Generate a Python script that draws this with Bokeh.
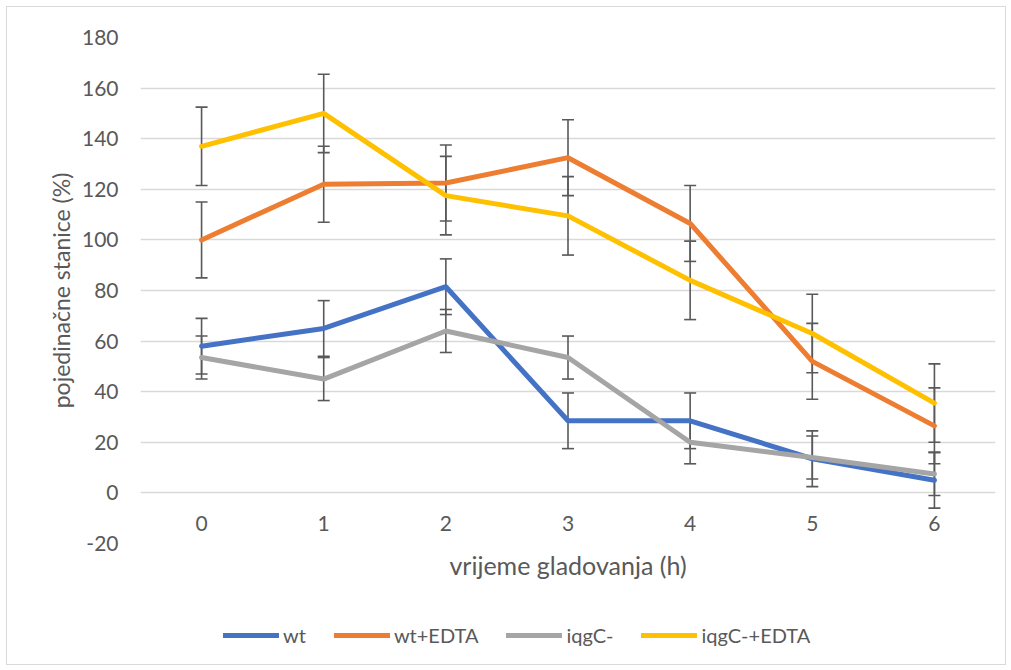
from bokeh.plotting import figure
from bokeh.layouts import column
from bokeh.models import (ColumnDataSource, Whisker, TeeHead, Range1d, FixedTicker,
                          Legend, LegendItem)
from bokeh.core.properties import value
from bokeh.embed import file_html
from bokeh.resources import INLINE

hours = [0, 1, 2, 3, 4, 5, 6]
hour_labels = ["0", "1", "2", "3", "4", "5", "6"]
wt = [58, 65, 81.5, 28.5, 28.5, 13.5, 5]
wt_edta = [100, 122, 122.5, 132.5, 106.5, 52, 26.5]
iqgc = [53.5, 45, 64, 53.5, 20, 14, 7.5]
iqgc_edta = [137, 150, 117.5, 109.5, 84, 63, 35.5]

wt_err = [11, 11, 11, 11, 11, 11, 11]
wt_edta_err = [15, 15, 15, 15, 15, 15, 15]
iqgc_err = [8.5, 8.5, 8.5, 8.5, 8.5, 8.5, 8.5]
iqgc_edta_err = [15.5, 15.5, 15.5, 15.5, 15.5, 15.5, 15.5]

names = ["wt", "wt+EDTA", "iqgC-", "iqgC-+EDTA"]
colors = ["#4472C4", "#ED7D31", "#A5A5A5", "#FFC000"]
y_ticks = [-20, 0, 20, 40, 60, 80, 100, 120, 140, 160, 180]

FONT = "Lato"
TXT = "#595959"

p = figure(width=998, height=610, output_backend="svg", toolbar_location=None,
           x_range=Range1d(-0.5, 6.5), y_range=Range1d(-20, 180),
           min_border_left=133, min_border_right=10, min_border_top=30,
           min_border_bottom=74, outline_line_color=None)

p.xgrid.grid_line_color = None
p.ygrid.grid_line_color = "#D9D9D9"
p.ygrid.grid_line_width = 1.3

for ax in (p.xaxis[0], p.yaxis[0]):
    ax.axis_line_color = None
    ax.major_tick_line_color = None
    ax.minor_tick_line_color = None
    ax.major_tick_in = 0
    ax.major_tick_out = 0
    ax.major_label_text_font = FONT
    ax.major_label_text_font_size = "21px"
    ax.major_label_text_color = TXT
    ax.axis_label_text_font = FONT
    ax.axis_label_text_font_style = "normal"
    ax.axis_label_text_color = TXT

p.xaxis.axis_label_text_font_size = "25px"
p.yaxis.axis_label_text_font_size = "23px"
p.xaxis.ticker = FixedTicker(ticks=[])
p.yaxis.ticker = FixedTicker(ticks=y_ticks)
p.yaxis.major_label_overrides = {-20: "-20"}
p.xaxis.major_label_standoff = 0
p.xaxis.axis_label = "vrijeme gladovanja (h)"
p.yaxis.axis_label = "pojedinačne stanice (%)"
p.xaxis.axis_label_standoff = 6
p.yaxis.major_label_standoff = 22
p.yaxis.axis_label_standoff = 4

series = [wt, wt_edta, iqgc, iqgc_edta]
errs = [wt_err, wt_edta_err, iqgc_err, iqgc_edta_err]

sources = []
for vals, err in zip(series, errs):
    src = ColumnDataSource(data=dict(
        x=hours, y=vals,
        upper=[v + e for v, e in zip(vals, err)],
        lower=[v - e for v, e in zip(vals, err)]))
    sources.append(src)

# category labels sit just below the zero line, as in Excel
lab_src = ColumnDataSource(data=dict(x=hours, y=[0] * len(hours), t=hour_labels))
p.text("x", "y", text="t", source=lab_src, text_align="center",
       text_baseline="middle", y_offset=31, text_font=value(FONT),
       text_font_size="21px", text_color=TXT)

for src, col in zip(sources, colors):
    p.line("x", "y", source=src, line_color=col, line_width=5,
           line_join="round", line_cap="round")

for src in sources:
    w = Whisker(source=src, base="x", upper="upper", lower="lower",
                line_color="#595959", line_width=1.6,
                upper_head=TeeHead(size=12, line_color="#595959", line_width=1.6),
                lower_head=TeeHead(size=12, line_color="#595959", line_width=1.6))
    p.add_layout(w)

# legend strip below the chart
lg = figure(width=998, height=47, output_backend="svg", toolbar_location=None,
            x_range=Range1d(0, 1), y_range=Range1d(0, 1),
            min_border_left=0, min_border_right=0, min_border_top=0,
            min_border_bottom=0, outline_line_color=None)
lg.axis.visible = False
lg.grid.grid_line_color = None

items = []
for name, col in zip(names, colors):
    r = lg.line(x=[-5, -4], y=[-5, -5], line_color=col, line_width=5,
                line_join="round", line_cap="round")
    items.append(LegendItem(label=name, renderers=[r]))

legend = Legend(items=items, orientation="horizontal", location=(83, 17),
                border_line_color=None, background_fill_alpha=0,
                label_text_font=FONT, label_text_font_size="20px",
                label_text_color=TXT, glyph_width=56, glyph_height=20,
                spacing=28, label_standoff=4, padding=0, margin=0)
lg.add_layout(legend, "center")

layout = column(p, lg, styles={"border": "1px solid #D9D9D9",
                               "margin-left": "6px", "margin-top": "6px"})

open("out.html", "w").write(file_html(layout, INLINE))
